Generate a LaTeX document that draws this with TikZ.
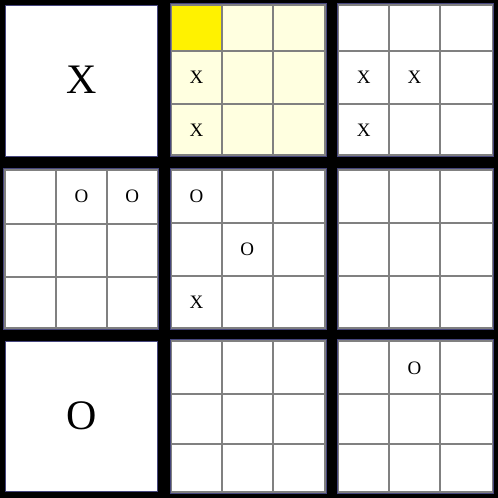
\documentclass[tikz,border=0pt]{standalone}
\usepackage{fontspec}
\setmainfont{Liberation Serif}
\definecolor{edgeblue}{RGB}{70,70,125}
\definecolor{paleyellow}{RGB}{255,255,224}
\definecolor{gridgray}{RGB}{128,128,128}
\tikzset{
  boardfill/.style={fill=white},
  gridline/.style={draw=gridgray,line width=2pt},
  boardedge/.style={draw=edgeblue,line width=0.8pt},
  smallmark/.style={inner sep=0pt,font=\fontsize{19}{19}\selectfont},
  bigmark/.style={inner sep=0pt,font=\fontsize{42}{42}\selectfont},
}
% board: x0,x1,y0,y1, xa,xb, ya,yb
\newcommand\myboardgrid[8]{%
  \draw[gridline] (#5,#3) -- (#5,#4);
  \draw[gridline] (#6,#3) -- (#6,#4);
  \draw[gridline] (#1,#7) -- (#2,#7);
  \draw[gridline] (#1,#8) -- (#2,#8);
  \draw[gridline] (#1,#3) rectangle (#2,#4);
  \draw[boardedge] ([shift={(-1.2,-1.2)}]#1,#3) rectangle ([shift={(1.2,1.2)}]#2,#4);
}
\begin{document}
\begin{tikzpicture}[x=1pt,y=-1pt]
\fill[black] (0,0) rectangle (498,498);
\useasboundingbox (0,0) rectangle (498,498);
% row 0
\fill[white] (5,5) rectangle (157.5,156.5);
\draw[boardedge] (5,5) rectangle (157.5,156.5);
\node[bigmark] (bigx) at (82,79.5) {X};
\fill[paleyellow] (171.3,5) rectangle (325.3,155);
\fill[yellow] (171.3,5) rectangle (221.7,51);
\myboardgrid{171.3}{325.3}{5}{155}{221.7}{272.7}{51}{104}
\node[smallmark] (b1x1) at (196.5,77.5) {X};
\node[smallmark] (b1x2) at (196.5,129.8) {X};
\fill[white] (338.3,5) rectangle (492.5,155);
\myboardgrid{338.3}{492.5}{5}{155}{389}{440}{51}{104}
\node[smallmark] (b2x1) at (363.7,77.5) {X};
\node[smallmark] (b2x2) at (414.5,77.5) {X};
\node[smallmark] (b2x3) at (363.7,129.8) {X};
% row 1
\fill[white] (5,170) rectangle (157.5,328.3);
\myboardgrid{5}{157.5}{170}{328.3}{56}{107}{223.5}{276.7}
\node[smallmark] (b3o1) at (81.5,196.5) {O};
\node[smallmark] (b3o2) at (132.3,196.5) {O};
\fill[white] (171.3,170) rectangle (325.3,328.3);
\myboardgrid{171.3}{325.3}{170}{328.3}{221.7}{272.7}{223}{276.3}
\node[smallmark] (b4o1) at (196.5,196.5) {O};
\node[smallmark] (b4o2) at (247.2,249.7) {O};
\node[smallmark] (b4x1) at (196.5,302.5) {X};
\fill[white] (338.3,170) rectangle (492.5,328.3);
\myboardgrid{338.3}{492.5}{170}{328.3}{389}{440}{223}{276.3}
% row 2
\fill[white] (5,341) rectangle (157.5,491.7);
\draw[boardedge] (5,341) rectangle (157.5,491.7);
\node[bigmark] (bigo) at (82,416) {O};
\fill[white] (171.3,341) rectangle (325.3,491.7);
\myboardgrid{171.3}{325.3}{341}{491.7}{221.7}{272.7}{394.3}{444.3}
\fill[white] (338.3,341) rectangle (492.5,491.7);
\myboardgrid{338.3}{492.5}{341}{491.7}{389}{440}{394.3}{444.3}
\node[smallmark] (b8o1) at (414.5,368.5) {O};
\end{tikzpicture}
\end{document}
